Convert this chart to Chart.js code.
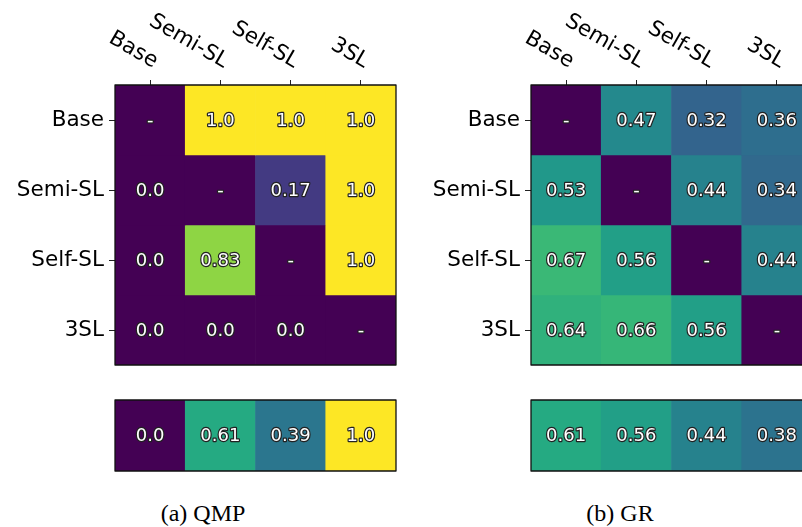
<!DOCTYPE html>
<html>
<head>
<meta charset="utf-8">
<script src="https://cdn.jsdelivr.net/npm/chart.js@4.4.1/dist/chart.umd.min.js"></script>
<style>
  body { margin: 0; width: 802px; height: 527px; overflow: hidden; background: #fff; position: relative; }
  canvas { position: absolute; }
  .caption { position: absolute; top: 500px; font: 24px "Liberation Serif", serif; color: #000; transform: translateX(-50%); white-space: nowrap; }
</style>
</head>
<body>
<canvas id="qmpGrid" width="400" height="370" style="left:0;top:0"></canvas>
<canvas id="qmpAll" width="400" height="90" style="left:0;top:390px"></canvas>
<canvas id="grGrid" width="400" height="370" style="left:416px;top:0"></canvas>
<canvas id="grAll" width="400" height="90" style="left:416px;top:390px"></canvas>
<div class="caption" style="left:203px">(a) QMP</div>
<div class="caption" style="left:620px">(b) GR</div>
<script>
const methods = ["Base", "Semi-SL", "Self-SL", "3SL"];

// pairwise results, row = method, col = compared method (null on the diagonal)
const qmpPairs = [
    [null, 1.0, 1.0, 1.0],
    [0.0, null, 0.17, 1.0],
    [0.0, 0.83, null, 1.0],
    [0.0, 0.0, 0.0, null]
];
const qmpOverall = [0.0, 0.61, 0.39, 1.0];

const grPairs = [
    [null, 0.47, 0.32, 0.36],
    [0.53, null, 0.44, 0.34],
    [0.67, 0.56, null, 0.44],
    [0.64, 0.66, 0.56, null]
];
const grOverall = [0.61, 0.56, 0.44, 0.38];

const viridisStops = ["#440154", "#482475", "#414487", "#355f8d", "#2a788e", "#21918c",
    "#22a884", "#44bf70", "#7ad151", "#bddf26", "#fde725"];

function viridis(t) {
    const p = Math.min(Math.max(t, 0), 1) * (viridisStops.length - 1);
    const i = Math.min(Math.floor(p), viridisStops.length - 2);
    const f = p - i;
    const a = viridisStops[i], b = viridisStops[i + 1];
    const ch = k => {
        const x = parseInt(a.substr(1 + 2 * k, 2), 16);
        const y = parseInt(b.substr(1 + 2 * k, 2), 16);
        return Math.round(x + (y - x) * f);
    };
    return `rgb(${ch(0)},${ch(1)},${ch(2)})`;
}

function fmt(v) {
    if (v === null) return "-";
    const r = Math.round(v * 100) / 100;
    return Number.isInteger(r) ? r.toFixed(1) : String(r);
}

const FONT = "'DejaVu Sans', sans-serif";

const cellLabels = {
    id: "cellLabels",
    afterDatasetsDraw(chart) {
        const ctx = chart.ctx;
        ctx.save();
        ctx.font = `18px ${FONT}`;
        ctx.textAlign = "center";
        ctx.textBaseline = "middle";
        ctx.lineJoin = "round";
        chart.data.datasets.forEach((ds, i) => {
            chart.getDatasetMeta(i).data.forEach((bar, j) => {
                const { x, y } = bar.getCenterPoint();
                const t = ds.cellText[j];
                ctx.lineWidth = 2.4;
                ctx.strokeStyle = "#222";
                ctx.strokeText(t, x, y + 1);
                ctx.fillStyle = "#fff";
                ctx.fillText(t, x, y + 1);
            });
        });
        const a = chart.chartArea;
        ctx.strokeStyle = "#111";
        ctx.lineWidth = 1.3;
        ctx.strokeRect(a.left, a.top, a.right - a.left, a.bottom - a.top);
        ctx.restore();
    }
};

const topLabels = {
    id: "topLabels",
    afterDraw(chart) {
        const xs = chart.scales.x;
        if (!xs || !xs.options.display) return;
        const ctx = chart.ctx;
        ctx.save();
        ctx.font = `21.5px ${FONT}`;
        ctx.fillStyle = "#000";
        ctx.textAlign = "right";
        ctx.textBaseline = "alphabetic";
        chart.data.labels.forEach((lab, i) => {
            ctx.save();
            ctx.translate(xs.getPixelForValue(i) + 3, chart.chartArea.top - 17);
            ctx.rotate(Math.PI / 6);
            ctx.fillText(lab, 0, 0);
            ctx.restore();
        });
        ctx.restore();
    }
};

function gridChart(id, matrix) {
    const datasets = matrix.map((row, r) => ({
        data: row.map(() => [r, r + 1]),
        backgroundColor: row.map(v => viridis(v === null ? 0 : v)),
        cellText: row.map(fmt),
        borderWidth: 0,
        barPercentage: 1,
        categoryPercentage: 1,
        grouped: false
    }));
    return new Chart(document.getElementById(id), {
        type: "bar",
        data: { labels: methods, datasets },
        options: {
            responsive: false,
            animation: false,
            events: [],
            layout: { padding: { right: 4, bottom: 5 } },
            plugins: { legend: { display: false }, tooltip: { enabled: false } },
            scales: {
                x: {
                    position: "top",
                    grid: { offset: false, drawOnChartArea: false, tickLength: 5, color: "#222", lineWidth: 1 },
                    border: { display: false },
                    ticks: { display: false },
                    afterFit: s => { s.height = 85; s.paddingLeft = 0; s.paddingRight = 0; }
                },
                y: {
                    min: 0,
                    max: 4,
                    reverse: true,
                    grid: { drawOnChartArea: false, tickLength: 6, color: "#222", lineWidth: 1 },
                    border: { display: false },
                    afterBuildTicks: s => { s.ticks = [0.5, 1.5, 2.5, 3.5].map(v => ({ value: v })); },
                    ticks: {
                        padding: 5,
                        color: "#000",
                        font: { family: FONT, size: 21.5 },
                        callback: v => methods[Math.floor(v)]
                    },
                    afterFit: s => { s.width = 115; s.paddingTop = 0; s.paddingBottom = 0; }
                }
            }
        },
        plugins: [cellLabels, topLabels]
    });
}

function overallChart(id, values) {
    return new Chart(document.getElementById(id), {
        type: "bar",
        data: {
            labels: methods,
            datasets: [{
                data: values.map(() => [0, 1]),
                backgroundColor: values.map(viridis),
                cellText: values.map(fmt),
                borderWidth: 0,
                barPercentage: 1,
                categoryPercentage: 1
            }]
        },
        options: {
            responsive: false,
            animation: false,
            events: [],
            layout: { padding: { left: 115, top: 10, right: 4, bottom: 9 } },
            plugins: { legend: { display: false }, tooltip: { enabled: false } },
            scales: {
                x: { display: false },
                y: { display: false, min: 0, max: 1 }
            }
        },
        plugins: [cellLabels]
    });
}

gridChart("qmpGrid", qmpPairs);
overallChart("qmpAll", qmpOverall);
gridChart("grGrid", grPairs);
overallChart("grAll", grOverall);
</script>
</body>
</html>
